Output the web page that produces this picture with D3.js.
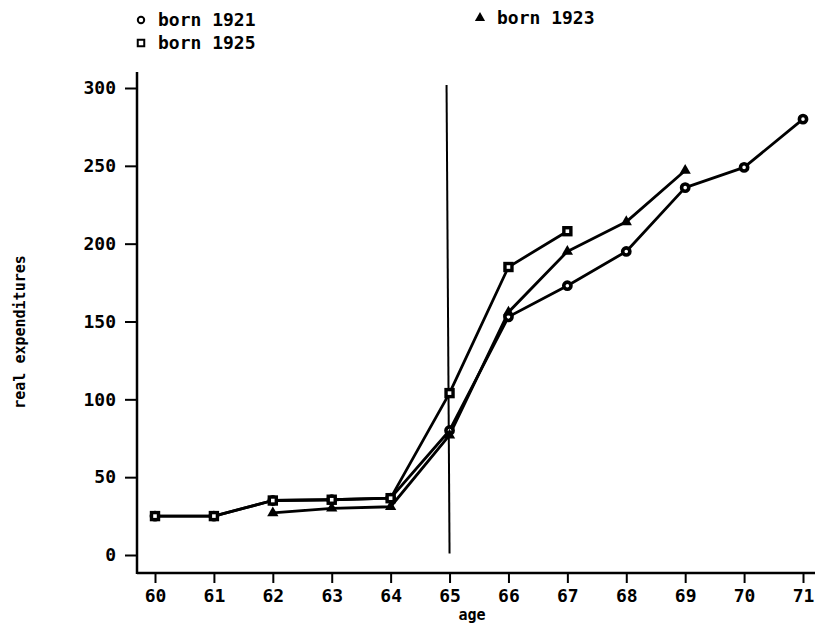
<!DOCTYPE html>
<html>
<head>
<meta charset="utf-8">
<script src="https://cdn.jsdelivr.net/npm/d3@7"></script>
<style>
  html, body { margin: 0; padding: 0; background: #fff; }
  svg { display: block; }
  text { font-family: "DejaVu Sans Mono", "Liberation Mono", monospace; fill: #000; }
</style>
</head>
<body>
<svg id="chart" width="815" height="629"></svg>
<script>
// Ages on the horizontal axis
const ages = [60, 61, 62, 63, 64, 65, 66, 67, 68, 69, 70, 71];

// Real expenditures by birth cohort (null = not observed)
const born1921 = [25, 25, 35, 35.5, 36.5, 80, 153, 173, 195, 236, 249, 280];
const born1923 = [null, null, 27, 30, 31, 77, 156, 195, 214, 247, null, null];
const born1925 = [25, 25, 35, 35.5, 36.5, 104, 185, 208, null, null, null, null];

const xTicks = [60, 61, 62, 63, 64, 65, 66, 67, 68, 69, 70, 71];
const yTicks = [0, 50, 100, 150, 200, 250, 300];

// Reference line at age 65 (retirement)
const retireAge = 65;
const retireSpan = [1, 302];

const svg = d3.select("#chart");

const x = d3.scaleLinear().domain([60, 71]).range([155, 803]);
const y = d3.scaleLinear().domain([0, 300]).range([555, 88]);

const axisX0 = 137, axisY0 = 573;

// Axis lines
svg.append("line").attr("x1", axisX0).attr("x2", axisX0).attr("y1", 72).attr("y2", axisY0 + 1)
  .attr("stroke", "#000").attr("stroke-width", 2.5);
svg.append("line").attr("x1", axisX0).attr("x2", 815).attr("y1", axisY0).attr("y2", axisY0)
  .attr("stroke", "#000").attr("stroke-width", 2.5);

// Y axis ticks and labels
const yAxis = d3.axisLeft(y).tickValues(yTicks).tickSize(12).tickPadding(9).tickFormat(d3.format("d"));
const gy = svg.append("g").attr("transform", `translate(${axisX0},0)`).call(yAxis);
gy.select(".domain").remove();
gy.selectAll(".tick line").attr("stroke", "#000").attr("stroke-width", 2);
gy.selectAll(".tick text").style("font-size", "18px").style("font-weight", "bold")
  .attr("fill", "#000");

// X axis ticks and labels
const xAxis = d3.axisBottom(x).tickValues(xTicks).tickSize(10).tickPadding(6).tickFormat(d3.format("d"));
const gx = svg.append("g").attr("transform", `translate(0,${axisY0})`).call(xAxis);
gx.select(".domain").remove();
gx.selectAll(".tick line").attr("stroke", "#000").attr("stroke-width", 2);
gx.selectAll(".tick text").style("font-size", "18px").style("font-weight", "bold")
  .attr("fill", "#000");

// Axis titles
svg.append("text").attr("x", 472).attr("y", 620).attr("text-anchor", "middle")
  .style("font-size", "15px").style("font-weight", "bold").text("age");
svg.append("text").attr("transform", "translate(25,332) rotate(-90)").attr("text-anchor", "middle")
  .style("font-size", "15px").style("font-weight", "bold").text("real expenditures");

// Vertical reference line
svg.append("line")
  .attr("x1", x(retireAge) - 3).attr("y1", y(retireSpan[1]))
  .attr("x2", x(retireAge)).attr("y2", y(retireSpan[0]))
  .attr("stroke", "#000").attr("stroke-width", 2);

const line = d3.line()
  .defined(d => d[1] != null)
  .x(d => x(d[0])).y(d => y(d[1]));

const series = [
  { name: "born 1921", values: born1921, marker: "circle" },
  { name: "born 1923", values: born1923, marker: "triangle" },
  { name: "born 1925", values: born1925, marker: "square" }
];

series.forEach(s => {
  const pts = ages.map((a, i) => [a, s.values[i]]);
  svg.append("path").datum(pts).attr("d", line)
    .attr("fill", "none").attr("stroke", "#000").attr("stroke-width", 2.8)
    .attr("stroke-linejoin", "round");
});

function drawMarker(g, type, cx, cy, big) {
  if (type === "circle") {
    g.append("circle").attr("cx", cx).attr("cy", cy).attr("r", big ? 3.6 : 3.2)
      .attr("fill", "#fff").attr("stroke", "#000").attr("stroke-width", big ? 3.6 : 2);
  } else if (type === "square") {
    const s = big ? 7 : 6.5;
    g.append("rect").attr("x", cx - s / 2).attr("y", cy - s / 2).attr("width", s).attr("height", s)
      .attr("fill", "#fff").attr("stroke", "#000").attr("stroke-width", big ? 3.4 : 2);
  } else {
    const sym = d3.symbol().type(d3.symbolTriangle).size(big ? 55 : 45);
    g.append("path").attr("d", sym()).attr("transform", `translate(${cx},${cy})`)
      .attr("fill", "#000");
  }
}

const mk = svg.append("g");
series.forEach(s => {
  ages.forEach((a, i) => {
    if (s.values[i] != null) drawMarker(mk, s.marker, x(a), y(s.values[i]), true);
  });
});

// Legend
const legend = [
  { name: "born 1921", marker: "circle", lx: 141, ly: 20, tx: 158 },
  { name: "born 1925", marker: "square", lx: 141, ly: 43, tx: 158 },
  { name: "born 1923", marker: "triangle", lx: 480, ly: 18, tx: 497 }
];
const lg = svg.append("g");
legend.forEach(l => {
  drawMarker(lg, l.marker, l.lx, l.ly, false);
  lg.append("text").attr("x", l.tx).attr("y", l.ly + 6)
    .style("font-size", "18px").style("font-weight", "bold").text(l.name);
});
</script>
</body>
</html>
